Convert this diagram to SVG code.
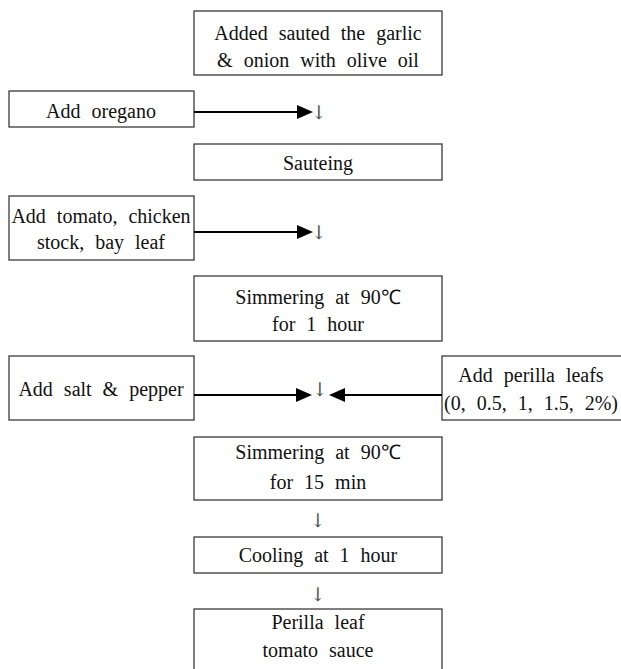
<svg xmlns="http://www.w3.org/2000/svg" width="621" height="669" viewBox="0 0 621 669">
<defs>
<style>
.box{fill:#fff;stroke:#3a3a3a;stroke-width:1.3}
.t{font-family:"Liberation Serif","Times New Roman",serif;font-size:20px;fill:#111;text-anchor:middle;word-spacing:6px}
.dn{font-family:"DejaVu Serif","Liberation Serif",serif;font-size:19px;fill:#555;text-anchor:middle}
.ln{stroke:#000;stroke-width:2.2;fill:none}
.hd{fill:#000}
</style>
</defs>
<rect width="621" height="669" fill="#fff"/>
<g id="n-garlic"><rect class="box" x="194" y="11" width="248" height="64"/>
<text class="t" x="318" y="40">Added sauted the garlic</text>
<text class="t" x="318" y="67">&amp; onion with olive oil</text></g>
<g id="n-oregano"><rect class="box" x="9" y="91" width="185" height="36"/>
<text class="t" x="101" y="118">Add oregano</text></g>
<g id="n-sauteing"><rect class="box" x="194" y="144" width="248" height="36"/>
<text class="t" x="318" y="170">Sauteing</text></g>
<g id="n-tomato"><rect class="box" x="9" y="196" width="185" height="64"/>
<text class="t" x="101" y="223">Add tomato, chicken</text>
<text class="t" x="101" y="249">stock, bay leaf</text></g>
<g id="n-simmer1"><rect class="box" x="194" y="276" width="248" height="65"/>
<text class="t" x="318" y="304">Simmering at 90℃</text>
<text class="t" x="318" y="331">for 1 hour</text></g>
<g id="n-salt"><rect class="box" x="9" y="356" width="185" height="64"/>
<text class="t" x="101" y="396">Add salt &amp; pepper</text></g>
<g id="n-perilla"><rect class="box" x="442" y="356" width="185" height="64"/>
<text class="t" x="531" y="382">Add perilla leafs</text>
<text class="t" x="531" y="410">(0, 0.5, 1, 1.5, 2%)</text></g>
<g id="n-simmer2"><rect class="box" x="194" y="437" width="248" height="63"/>
<text class="t" x="318" y="459">Simmering at 90℃</text>
<text class="t" x="318" y="489">for 15 min</text></g>
<g id="n-cooling"><rect class="box" x="194" y="537" width="248" height="36"/>
<text class="t" x="318" y="562">Cooling at 1 hour</text></g>
<g id="n-final"><rect class="box" x="194" y="609" width="248" height="70"/>
<text class="t" x="318" y="629">Perilla leaf</text>
<text class="t" x="318" y="657">tomato sauce</text></g>
<g id="connectors">
<line class="ln" x1="194" y1="112" x2="298" y2="112"/>
<polygon class="hd" points="297,105 313,112 297,119"/>
<text class="dn" x="319" y="119">↓</text>
<line class="ln" x1="194" y1="232" x2="298" y2="232"/>
<polygon class="hd" points="297,225 313,232 297,239"/>
<text class="dn" x="319" y="239">↓</text>
<line class="ln" x1="194" y1="395" x2="298" y2="395"/>
<polygon class="hd" points="296,388 312,395 296,402"/>
<text class="dn" x="320" y="396">↓</text>
<line class="ln" x1="344" y1="395" x2="442" y2="395"/>
<polygon class="hd" points="345,388 329,395 345,402"/>
<text class="dn" x="318" y="527">↓</text>
<text class="dn" x="318" y="601">↓</text>
</g>
</svg>
